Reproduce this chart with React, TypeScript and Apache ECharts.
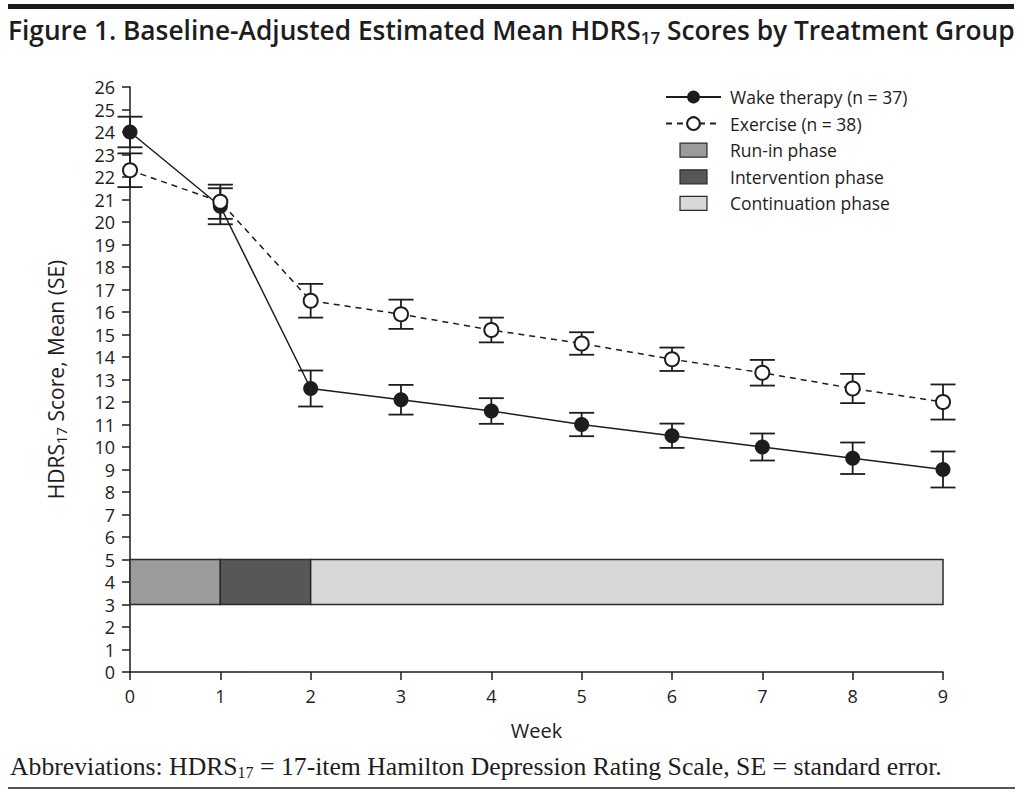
import React, { useEffect, useRef } from "react";
import * as echarts from "echarts";

// ---- data ----
const weeks = [0, 1, 2, 3, 4, 5, 6, 7, 8, 9];
const wakeMean = [24.0, 20.7, 12.6, 12.1, 11.6, 11.0, 10.5, 10.0, 9.5, 9.0];
const wakeSE = [0.68, 0.8, 0.8, 0.66, 0.57, 0.52, 0.54, 0.6, 0.7, 0.8];
const exerciseMean = [22.3, 20.9, 16.5, 15.9, 15.2, 14.6, 13.9, 13.3, 12.6, 12.0];
const exerciseSE = [0.75, 0.76, 0.75, 0.65, 0.55, 0.5, 0.52, 0.57, 0.65, 0.78];
const phaseNames = ["Run-in phase", "Intervention phase", "Continuation phase"];
const phaseStart = [0, 1, 2];
const phaseEnd = [1, 2, 9];
const phaseLow = [3, 3, 3];
const phaseHigh = [5, 5, 5];
const yTicksMin = 0;
const yTicksMax = 26;
const xTicksMin = 0;
const xTicksMax = 9;
const wakeName = "Wake therapy (n = 37)";
const exerciseName = "Exercise (n = 38)";

const phaseColors = ["#9b9b9b", "#575757", "#d8d8d8"];
const INK = "#1e1c1d";
const SANS = "'Open Sans', 'Noto Sans', sans-serif";
const SERIF = "'Liberation Serif', 'DejaVu Serif', serif";

const rectIcon = "path://M0,0 M55,16 M14,1 L41,1 L41,15 L14,15 Z";

export default function App() {
  const ref = useRef<HTMLDivElement>(null);

  useEffect(() => {
    if (!ref.current) return;
    const chart = echarts.init(ref.current, null, { renderer: "svg" });

    const errRender = (params: any, api: any) => {
      const x = api.value(0);
      const lo = api.coord([x, api.value(1)]);
      const hi = api.coord([x, api.value(2)]);
      const hw = 12.5;
      const st = { stroke: INK, lineWidth: 1.8 };
      return {
        type: "group",
        children: [
          { type: "line", shape: { x1: hi[0], y1: hi[1], x2: lo[0], y2: lo[1] }, style: st },
          { type: "line", shape: { x1: hi[0] - hw, y1: hi[1], x2: hi[0] + hw, y2: hi[1] }, style: st },
          { type: "line", shape: { x1: lo[0] - hw, y1: lo[1], x2: lo[0] + hw, y2: lo[1] }, style: st },
        ],
      };
    };

    const phaseRender = (params: any, api: any) => {
      const p1 = api.coord([api.value(0), api.value(3)]);
      const p2 = api.coord([api.value(1), api.value(2)]);
      return {
        type: "rect",
        shape: { x: p1[0], y: p1[1], width: p2[0] - p1[0], height: p2[1] - p1[1] },
        style: { fill: api.visual("color"), stroke: "#2a2a2a", lineWidth: 1.5 },
      };
    };

    const phaseSeries = phaseNames.map((name, i) => ({
      type: "custom",
      name,
      renderItem: phaseRender,
      itemStyle: { color: phaseColors[i] },
      encode: { x: [0, 1], y: [2, 3] },
      data: [[phaseStart[i], phaseEnd[i], phaseLow[i], phaseHigh[i]]],
      z: 1,
      silent: true,
    }));

    const option: any = {
      animation: false,
      backgroundColor: "#fff",
      title: [
        {
          text: "{a|Figure 1. Baseline-Adjusted Estimated Mean HDRS}{s|17}{a| Scores by Treatment Group}",
          left: 8,
          top: 14,
          padding: 0,
          textStyle: {
            rich: {
              a: { fontFamily: SANS, fontSize: 26.3, fontWeight: 600, color: INK, lineHeight: 32 },
              s: { fontFamily: SANS, fontSize: 17, fontWeight: 600, color: INK, padding: [15, 0, 0, 0] },
            },
          },
        },
        {
          text: "{a|Abbreviations: HDRS}{s|17}{a| = 17-item Hamilton Depression Rating Scale, SE = standard error.}",
          left: 10,
          top: 751,
          padding: 0,
          textStyle: {
            fontWeight: "normal",
            rich: {
              a: { fontFamily: SERIF, fontSize: 25.7, fontWeight: "normal", color: INK, lineHeight: 30 },
              s: { fontFamily: SERIF, fontSize: 16, fontWeight: "normal", color: INK, padding: [12, 0, 0, 0] },
            },
          },
        },
      ],
      graphic: [
        { type: "rect", shape: { x: 8, y: 4, width: 1006, height: 5 }, style: { fill: "#1a1a1a" } },
        { type: "rect", shape: { x: 8, y: 787, width: 1007, height: 2 }, style: { fill: "#555" } },
      ],
      legend: {
        orient: "vertical",
        left: 665,
        top: 88,
        padding: 0,
        itemWidth: 55,
        itemHeight: 16,
        itemGap: 8.6,
        selectedMode: false,
        textStyle: { fontFamily: SANS, fontSize: 17.5, color: INK, padding: [0, 0, 0, 4] },
        data: [
          { name: wakeName },
          { name: exerciseName },
          ...phaseNames.map((n, i) => ({
            name: n,
            icon: rectIcon,
            itemStyle: { color: phaseColors[i], borderColor: "#2a2a2a", borderWidth: 1.2 },
          })),
        ],
      },
      grid: { left: 130, right: 81, top: 87, bottom: 121, containLabel: false },
      xAxis: {
        type: "value",
        min: xTicksMin,
        max: xTicksMax,
        interval: 1,
        name: "Week",
        nameLocation: "middle",
        nameGap: 48,
        nameTextStyle: { fontFamily: SANS, fontSize: 20, color: INK },
        axisLine: { lineStyle: { color: INK, width: 1.5 } },
        axisTick: { show: true, length: 8, lineStyle: { color: INK, width: 1.5 } },
        axisLabel: { fontFamily: SANS, fontSize: 18, lineHeight: 18, color: INK, margin: 15 },
        splitLine: { show: false },
      },
      yAxis: {
        type: "value",
        min: yTicksMin,
        max: yTicksMax,
        interval: 1,
        name: "{a|HDRS}{s|17}{a| Score, Mean (SE)}",
        nameLocation: "middle",
        nameRotate: 90,
        nameGap: 62,
        nameTextStyle: {
          fontFamily: SANS,
          fontSize: 21,
          color: INK,
          rich: {
            a: { fontFamily: SANS, fontSize: 21, color: INK },
            s: { fontFamily: SANS, fontSize: 15, color: INK, padding: [10, 0, 0, 0] },
          },
        },
        axisLine: { lineStyle: { color: INK, width: 1.5 } },
        axisTick: { show: true, length: 8, lineStyle: { color: INK, width: 1.5 } },
        axisLabel: { fontFamily: SANS, fontSize: 18, lineHeight: 18, color: INK, margin: 15 },
        splitLine: { show: false },
      },
      series: [
        ...phaseSeries,
        {
          type: "custom",
          name: "wakeErr",
          renderItem: errRender,
          encode: { x: 0, y: [1, 2] },
          data: weeks.map((w, i) => [w, wakeMean[i] - wakeSE[i], wakeMean[i] + wakeSE[i]]),
          z: 2,
          silent: true,
        },
        {
          type: "custom",
          name: "exErr",
          renderItem: errRender,
          encode: { x: 0, y: [1, 2] },
          data: weeks.map((w, i) => [w, exerciseMean[i] - exerciseSE[i], exerciseMean[i] + exerciseSE[i]]),
          z: 2,
          silent: true,
        },
        {
          type: "line",
          name: wakeName,
          data: weeks.map((w, i) => [w, wakeMean[i]]),
          symbol: "circle",
          symbolSize: 15,
          itemStyle: { color: INK },
          lineStyle: { color: INK, width: 1.5 },
          z: 3,
        },
        {
          type: "line",
          name: exerciseName,
          data: weeks.map((w, i) => [w, exerciseMean[i]]),
          symbol: "circle",
          symbolSize: 14,
          itemStyle: { color: "#fff", borderColor: INK, borderWidth: 2 },
          lineStyle: { color: INK, width: 1.5, type: [6, 5] },
          z: 4,
        },
      ],
    };

    chart.setOption(option);
    return () => chart.dispose();
  }, []);

  return (
    <div
      ref={ref}
      style={{ position: "fixed", left: 0, top: 0, width: 1024, height: 793, background: "#fff" }}
    />
  );
}
